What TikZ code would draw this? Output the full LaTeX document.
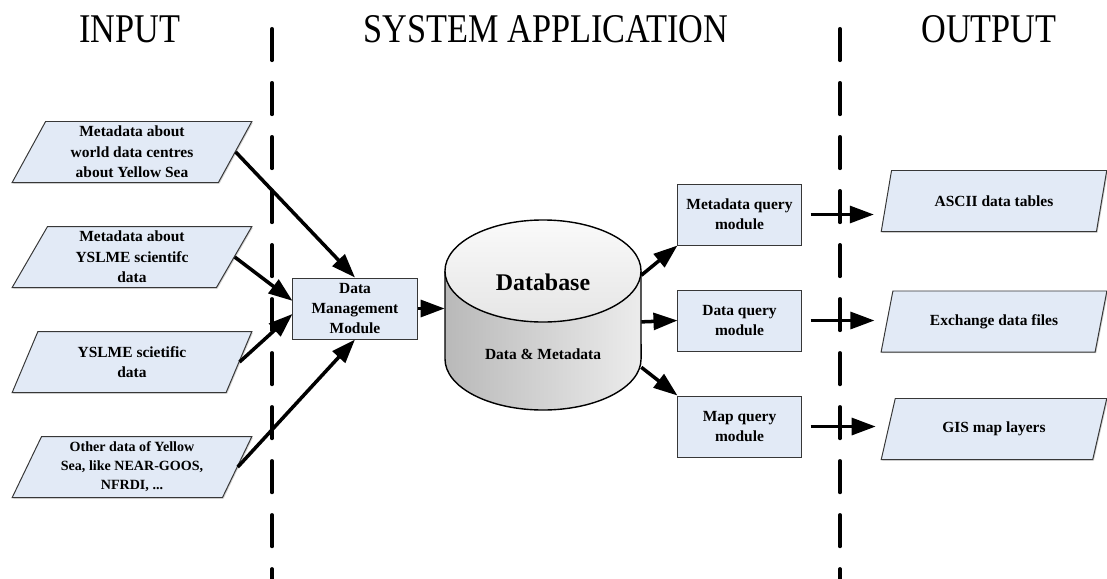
\documentclass[tikz,border=0pt]{standalone}
\usepackage{fontspec}
\setmainfont{Liberation Serif}
\usepackage{tikz}
\usetikzlibrary{shapes,arrows.meta,positioning,shadows}
\definecolor{boxBlue}{RGB}{226,234,246}
\definecolor{edgeGray}{RGB}{55,55,55}

\begin{document}
\begin{tikzpicture}[
            x=0.025cm, y=-0.025cm,
            heading/.style={font=\fontsize{29}{32}\selectfont, xscale=0.84, anchor=base},
            module/.style={rectangle, draw=edgeGray, line width=0.7pt, fill=boxBlue, minimum width=3.1cm, minimum height=1.525cm, align=center, inner sep=1pt, font=\bfseries\fontsize{11}{14.5}\selectfont, drop shadow={shadow xshift=0.8pt, shadow yshift=-0.8pt, opacity=0.35}},
            datafile/.style={trapezium, trapezium left angle=66, trapezium right angle=114, trapezium stretches=true, draw=edgeGray, line width=0.7pt, fill=boxBlue, minimum height=1.525cm, align=center, inner sep=1pt, font=\bfseries\fontsize{11}{14.5}\selectfont, drop shadow={shadow xshift=0.8pt, shadow yshift=-0.8pt, opacity=0.35}},
            arrow/.style={-{Triangle[length=0.6cm,width=0.42cm]}, line width=2.5pt},
            divider/.style={line width=2.5pt, line cap=round, dash pattern=on 0.79cm off 0.56cm}
        ]
            \useasboundingbox (0,0) rectangle (1107,579);

            % column headings and dividers
            \node[heading] (intitle) at (130,42) {INPUT};
            \node[heading] (systitle) at (546,42) {SYSTEM APPLICATION};
            \node[heading] (outtitle) at (989,42) {OUTPUT};
            \draw[divider] (272,28.75) -- (272,600);
            \draw[divider] (840,28.75) -- (840,600);

            % input data
            \node[datafile, minimum width=6cm] (worldmeta) at (132,152) {Metadata about\\world data centres\\about Yellow Sea};
            \node[datafile, minimum width=6cm, below=1.075cm of worldmeta] (yslmemeta) {Metadata about\\YSLME scientifc\\data};
            \node[datafile, minimum width=6cm, below=1.075cm of yslmemeta] (yslmedata) {YSLME scietific\\data};
            \node[datafile, minimum width=6cm, below=1.075cm of yslmedata, font=\bfseries\fontsize{10}{13.5}\selectfont] (otherdata) {Other data of Yellow\\Sea, like NEAR-GOOS,\\NFRDI, ...};

            \node[module] (manage) at (355,308.5) {Data\\Management\\Module};

            % database cylinder
            \shade[left color=gray!55, right color=gray!15] (445,271) -- (445,359) arc[start angle=180, end angle=360, x radius=2.45cm, y radius=1.275cm] -- (641,271) -- cycle;
            \draw[line width=1pt] (445,271) -- (445,359) arc[start angle=180, end angle=360, x radius=2.45cm, y radius=1.275cm] -- (641,271);
            \draw[line width=1pt, top color=gray!4, bottom color=gray!20] (543,271) ellipse[x radius=2.45cm, y radius=1.275cm];
            \node[minimum width=4.9cm, minimum height=4.75cm] (db) at (543,315) {};
            \node[font=\bfseries\fontsize{17}{20}\selectfont] (dbname) at (543,282) {Database};
            \node[font=\bfseries\fontsize{11}{14}\selectfont] (dbcontent) at (543,354) {Data \& Metadata};

            % query modules
            \node[module, minimum width=3.075cm] (metaquery) at (739.5,214.5) {Metadata query\\module};
            \node[module, minimum width=3.075cm, below=1.1cm of metaquery] (dataquery) {Data query\\module};
            \node[module, minimum width=3.075cm, below=1.1cm of dataquery] (mapquery) {Map query\\module};

            % outputs
            \node[datafile, minimum width=5.65cm] (ascii) at (994,201) {ASCII data tables};
            \node[datafile, minimum width=5.65cm] (exchange) at (994,321.5) {Exchange data files};
            \node[datafile, minimum width=5.65cm] (gis) at (994,429) {GIS map layers};

            \draw[arrow] (worldmeta.east) -- (manage.north);
            \draw[arrow] (yslmemeta.east) -- (manage.173);
            \draw[arrow] (yslmedata.east) -- (manage.185);
            \draw[arrow] (otherdata.east) -- (manage.south);
            \draw[arrow] (manage.east) -- (manage.east -| db.west);
            \draw[arrow] (db.22) -- (metaquery.south west);
            \draw[arrow] (db.-4) -- (dataquery.west);
            \draw[arrow] (db.-28) -- (mapquery.north west);
            \draw[arrow, shorten <=0.225cm, shorten >=0.3cm] (metaquery.east) -- (metaquery.east -| ascii.west);
            \draw[arrow, shorten <=0.225cm, shorten >=0.3cm] (dataquery.east) -- (dataquery.east -| exchange.west);
            \draw[arrow, shorten <=0.225cm, shorten >=0.3cm] (mapquery.east) -- (mapquery.east -| gis.west);
        \end{tikzpicture}
\end{document}
